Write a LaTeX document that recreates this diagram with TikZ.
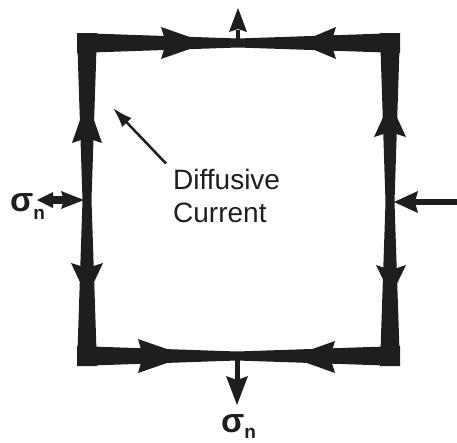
\documentclass[tikz,border=0pt]{standalone}
\usepackage{fontspec}
\setmainfont{Liberation Sans}
\usetikzlibrary{arrows.meta}
\definecolor{ink}{HTML}{1E1E1E}
\begin{document}
\begin{tikzpicture}[x=1pt,y=-1pt,
  band/.style={fill=ink},
  head/.style={fill=ink},
  stem/.style={draw=ink,line cap=butt},
  lbl/.style={inner sep=0pt,text=ink,font=\fontsize{28}{28}\selectfont},
  sig/.style={inner sep=0pt,text=ink,font=\fontsize{34}{34}\selectfont\bfseries}]
\useasboundingbox (0,0) rectangle (457,442);
% mid points of the sides
\coordinate (TM) at (238,43);
\coordinate (BM) at (237,356);
\coordinate (LM) at (87,200);
\coordinate (RM) at (390,202);
% tapered bands (thin at the middle of each side, thick at the corners)
\fill[band] (238,38.5) -- (77,33) -- (77,53) -- (238,47.5) -- cycle;
\fill[band] (238,38.5) -- (400,33) -- (400,53) -- (238,47.5) -- cycle;
\fill[band] (237,351.5) -- (77,346) -- (77,366) -- (237,360.5) -- cycle;
\fill[band] (237,351.5) -- (400,346) -- (400,366) -- (237,360.5) -- cycle;
\fill[band] (82.5,200) -- (77,33) -- (97,33) -- (91.5,200) -- cycle;
\fill[band] (82.5,200) -- (77,366) -- (97,366) -- (91.5,200) -- cycle;
\fill[band] (385.5,202) -- (380,33) -- (400,33) -- (394.5,202) -- cycle;
\fill[band] (385.5,202) -- (380,366) -- (400,366) -- (394.5,202) -- cycle;
% arrowheads on the square
\fill[head] (207,43) -- (161,27) -- (166,43) -- (161,59) -- cycle;
\fill[head] (298,43) -- (336,27) -- (331,43) -- (336,59) -- cycle;
\fill[head] (187,356) -- (138,339) -- (143,356) -- (138,373) -- cycle;
\fill[head] (290,357) -- (335,341) -- (330,357) -- (335,373) -- cycle;
\fill[head] (87,100) -- (72,143) -- (87,138) -- (102,143) -- cycle;
\fill[head] (87,297) -- (71,263) -- (87,268) -- (103,263) -- cycle;
\fill[head] (390,102) -- (374,137) -- (390,132) -- (406,137) -- cycle;
\fill[head] (391,296) -- (376,265) -- (391,270) -- (406,265) -- cycle;
% flux arrows
\coordinate (topend) at (238,30);
\draw[stem,line width=4.5pt] (TM) -- (topend);
\fill[head] (238,8) -- (229,32) -- (238,29) -- (247,32) -- cycle;
\coordinate (botend) at (237,380);
\draw[stem,line width=5pt] (BM) -- (botend);
\fill[head] (237,405) -- (226,376) -- (237,380) -- (248,376) -- cycle;
\coordinate (rightend) at (457,202);
\coordinate (rightin) at (415,202);
\draw[stem,line width=6pt] (rightend) -- (rightin);
\fill[head] (394,202) -- (418,191) -- (415,202) -- (418,213) -- cycle;
\coordinate (leftend) at (48,200);
\coordinate (leftin) at (66,200);
\draw[stem,line width=8pt] (leftend) -- (leftin);
\fill[head] (84,200) -- (61,191) -- (64,200) -- (61,209) -- cycle;
\fill[head] (37,200) -- (53,192) -- (53,208) -- cycle;
% labels
\node[lbl,anchor=base west] (diff) at (173,189) {Diffusive};
\node[lbl,anchor=base west] (curr) at (173,222) {Current};
\node[sig,anchor=base west] (sl) at (10,211) {σ\raisebox{-8pt}{\fontsize{19}{19}\selectfont n}};
\node[sig,anchor=base west] (sb) at (221,432) {σ\raisebox{-6pt}{\fontsize{19}{19}\selectfont n}};
% pointer
\coordinate (ptip) at (113,108);
\draw[draw=ink,line width=2.5pt,-{Latex[length=20pt,width=13pt]}] ([shift={(-7,-5)}]diff.north west) -- (ptip);
\end{tikzpicture}
\end{document}
